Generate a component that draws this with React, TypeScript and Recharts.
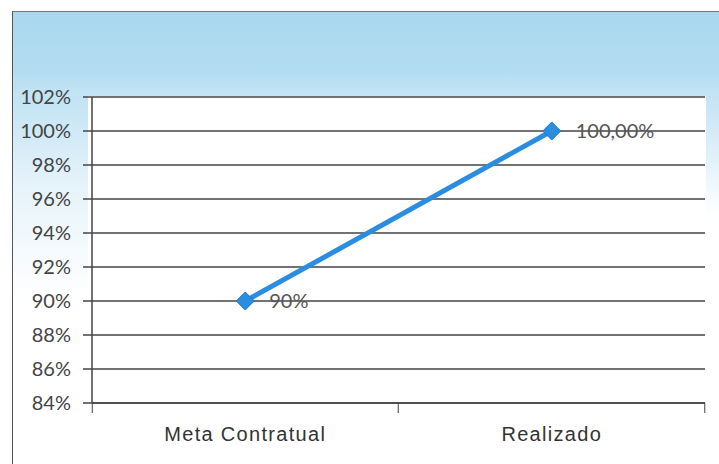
import { LineChart, Line, XAxis, YAxis, CartesianGrid, LabelList } from 'recharts';

const categories = ['Meta Contratual', 'Realizado'];
const values = [0.9, 1.0];
const valueLabels = ['90%', '100,00%'];
const yTicks = [0.84, 0.86, 0.88, 0.9, 0.92, 0.94, 0.96, 0.98, 1.0, 1.02];

const data = categories.map((name, i) => ({ name, value: values[i], label: valueLabels[i] }));

const pct = (v: number) => `${Math.round(v * 100)}%`;

function Diamond(props: any) {
  const { cx, cy, index } = props;
  if (cx == null || cy == null) return null;
  const r = 9;
  return (
    <path
      key={`d-${index}`}
      d={`M${cx},${cy - r} L${cx + r},${cy} L${cx},${cy + r} L${cx - r},${cy} Z`}
      fill="#2b8de0"
      stroke="#1f78c8"
      strokeWidth={1}
    />
  );
}

function CategoryTick(props: any) {
  const { x, y, payload, index } = props;
  const half = 153;
  return (
    <g>
      {index === 0 && <line x1={x - half} y1={y - 8} x2={x - half} y2={y + 2} stroke="#444" />}
      <line x1={x + half} y1={y - 8} x2={x + half} y2={y + 2} stroke="#444" />
      <text
        x={x}
        y={y + 30}
        textAnchor="middle"
        fontFamily="'Liberation Sans', Arial, sans-serif"
        fontSize={20}
        letterSpacing={1.3}
        fill="#333"
      >
        {payload.value}
      </text>
    </g>
  );
}

export default function App() {
  return (
    <div style={{ position: 'absolute', left: 0, top: 0, width: 719, height: 464, background: '#fff', overflow: 'hidden' }}>
      <div
        style={{
          position: 'absolute',
          left: 12,
          top: 12,
          width: 707,
          height: 84,
          background: 'linear-gradient(180deg, #a9d8ef 0%, #b3dcf1 70%, #c4e5f4 100%)',
        }}
      />
      <div
        style={{
          position: 'absolute',
          left: 12,
          top: 96,
          width: 76,
          height: 200,
          background: 'linear-gradient(180deg, #c2e3f4 0%, #e6f3fa 45%, #ffffff 100%)',
        }}
      />
      <div
        style={{
          position: 'absolute',
          left: 706,
          top: 96,
          width: 13,
          height: 120,
          background: 'linear-gradient(180deg, #c2e3f4 0%, #ffffff 100%)',
        }}
      />
      <div style={{ position: 'absolute', left: 12, top: 11, width: 707, height: 1, background: '#777' }} />
      <div style={{ position: 'absolute', left: 12, top: 11, width: 1, height: 453, background: '#555' }} />
      <div style={{ position: 'absolute', left: 0, top: 0 }}>
        <LineChart width={719} height={464} data={data} margin={{ top: 97, right: 14, bottom: 0, left: 0 }}>
          <CartesianGrid vertical={false} stroke="#444" strokeWidth={1.5} />
          <XAxis
            dataKey="name"
            scale="band"
            height={61}
            stroke="#444"
            strokeWidth={1.5}
            tickLine={false}
            tick={<CategoryTick />}
            interval={0}
          />
          <YAxis
            width={92}
            domain={[0.84, 1.02]}
            ticks={yTicks}
            tickFormatter={pct}
            stroke="#444"
            strokeWidth={1.5}
            tickSize={9}
            tickMargin={12}
            tick={{ fontFamily: 'Lato, Calibri, sans-serif', fontSize: 20, fill: '#444' }}
            interval={0}
          />
          <Line
            dataKey="value"
            stroke="#2b8de0"
            strokeWidth={5}
            dot={<Diamond />}
            activeDot={false}
            isAnimationActive={false}
          >
            <LabelList
              dataKey="label"
              position="right"
              offset={24}
              style={{ fontFamily: 'Lato, Calibri, sans-serif', fontSize: 20, fill: '#555' }}
            />
          </Line>
        </LineChart>
      </div>
    </div>
  );
}
